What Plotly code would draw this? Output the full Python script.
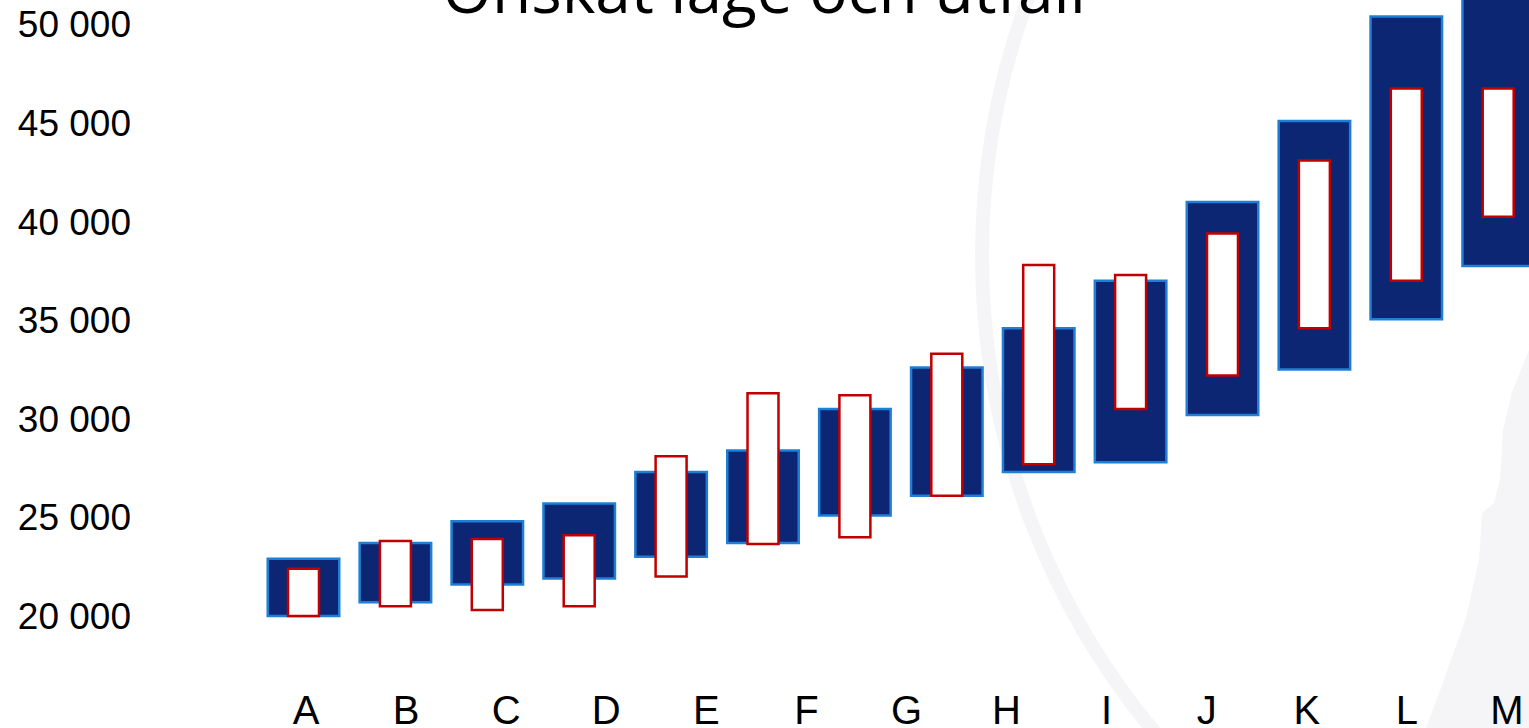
import plotly.graph_objects as go

# Category labels along the bottom axis
categories = ["A", "B", "C", "D", "E", "F", "G", "H", "I", "J", "K", "L", "M"]

# Wide navy bars: low / high of each interval
range_low = [20000, 20700, 21600, 21900, 23000, 23700, 25100, 26100, 27300, 27800, 30200, 32500, 35050, 37750]
range_high = [22900, 23700, 24800, 25700, 27300, 28400, 30500, 32600, 34600, 37000, 41000, 45100, 50400, 55000]

# Narrow white bars with red outline: low / high of each interval
target_low = [20000, 20500, 20300, 20500, 22000, 23650, 24000, 26100, 27700, 30500, 32200, 34600, 37000, 40250]
target_high = [22400, 23800, 23900, 24100, 28100, 31300, 31200, 33300, 37800, 37300, 39400, 43100, 46750, 46750]

y_ticks = [20000, 25000, 30000, 35000, 40000, 45000, 50000]

W, H = 1529, 728
ML, MR, MT, MB = 140, 0, 0, 45
PW, PH = W - ML - MR, H - MT - MB


def px(x, y):
    """Page pixel -> paper coordinates of the plot area."""
    return (x - ML) / PW, (H - MB - y) / PH


positions = list(range(len(range_low)))

fig = go.Figure()
fig.add_trace(go.Bar(
    x=positions,
    y=[h - l for l, h in zip(range_low, range_high)],
    base=range_low,
    width=0.778,
    marker=dict(color="#0c2674", line=dict(color="#1f7fd6", width=2.5)),
    hoverinfo="skip",
))
fig.add_trace(go.Bar(
    x=positions,
    y=[h - l for l, h in zip(target_low, target_high)],
    base=target_low,
    width=0.337,
    marker=dict(color="#ffffff", line=dict(color="#c00000", width=2.5)),
    hoverinfo="skip",
))
# invisible carrier for the category labels on the secondary x axis
fig.add_trace(go.Scatter(
    x=categories, y=[y_ticks[0]] * len(categories), xaxis="x2",
    mode="markers", marker=dict(opacity=0), hoverinfo="skip",
))

# faint decorative ring and silhouette in the background
cx, cy, r = 1725, 256, 743
x0, y0 = px(cx - r, cy + r)
x1, y1 = px(cx + r, cy - r)
shapes = [dict(type="circle", xref="paper", yref="paper", x0=x0, y0=y0, x1=x1, y1=y1,
               line=dict(color="#f5f5f8", width=14), fillcolor="rgba(0,0,0,0)", layer="below")]

outline = [(1529, 350), (1512, 392), (1503, 430), (1500, 480), (1494, 503), (1482, 513),
           (1479, 560), (1466, 618), (1441, 688), (1426, 728), (1529, 728)]
pts = [px(a, b) for a, b in outline]
path = "M " + " L ".join(f"{a:.4f},{b:.4f}" for a, b in pts) + " Z"
shapes.append(dict(type="path", xref="paper", yref="paper", path=path,
                   fillcolor="#f5f5f8", line=dict(width=0), layer="below"))

bar_span = PW / 91.9
x_left = -(303.5 - ML) / 91.9
lab_span = PW / 100.08
lab_left = -(306 - ML) / 100.08
y_top = 50000 + 24.5 / 0.019717
y_bot = y_top - PH / 0.019717

fig.update_layout(
    width=W, height=H,
    margin=dict(l=ML, r=MR, t=MT, b=MB, pad=0, autoexpand=False),
    paper_bgcolor="white", plot_bgcolor="rgba(0,0,0,0)",
    barmode="overlay", showlegend=False,
    separators=", ",
    shapes=shapes,
    xaxis=dict(range=[x_left, x_left + bar_span], showticklabels=False, showgrid=False,
               zeroline=False, showline=False, ticks="", automargin=False),
    xaxis2=dict(type="category", overlaying="x", side="bottom",
                range=[lab_left, lab_left + lab_span], showgrid=False, zeroline=False,
                showline=False, ticks="", automargin=False,
                tickfont=dict(family="Liberation Sans Narrow, Arial Narrow, Liberation Sans, Arial",
                              size=40, color="black")),
    yaxis=dict(range=[y_bot, y_top], tickvals=y_ticks, tickformat=",d", showgrid=False,
               zeroline=False, showline=False, ticks="", automargin=False,
               ticklabelstandoff=8,
               tickfont=dict(family="Liberation Sans, Arial", size=37, color="black")),
    title=dict(text="Önskat läge och utfall", x=764 / W, xanchor="center",
               yref="container", y=1 - 13 / H, yanchor="bottom",
               font=dict(family="Open Sans", size=64, color="black")),
)

fig.write_html("out.html")
